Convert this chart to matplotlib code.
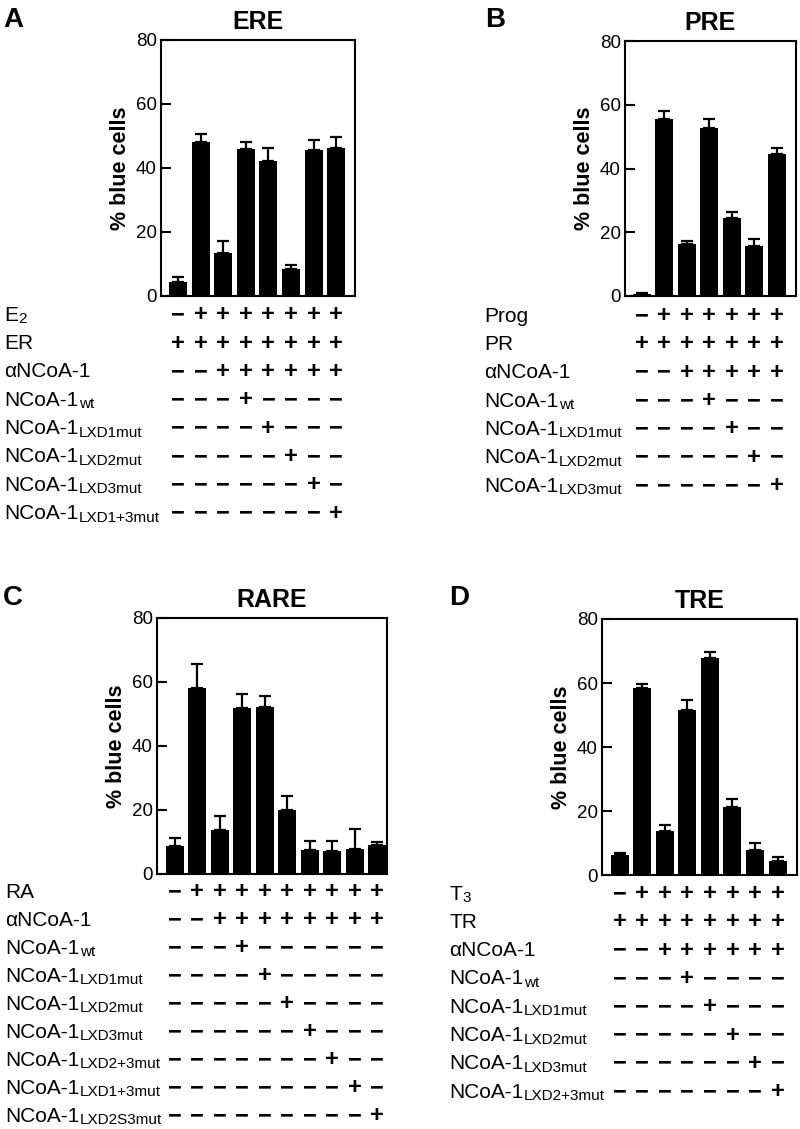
import matplotlib
matplotlib.use('Agg')
import matplotlib.pyplot as plt
from matplotlib import font_manager
from matplotlib.transforms import blended_transform_factory

plt.rcParams['font.family'] = ['Liberation Sans', 'DejaVu Sans']

try:
    font_manager.findfont('Liberation Sans Narrow', fallback_to_default=False)
    SUB_FAMILY = ['Liberation Sans Narrow', 'Liberation Sans']
    SUB_SIZE = 12.5
except Exception:
    SUB_FAMILY = ['Liberation Sans', 'DejaVu Sans']
    SUB_SIZE = 11

# ---------------- data ----------------
ere_values = [4.3, 48.2, 13.3, 46.0, 42.2, 8.3, 45.6, 46.2]
ere_errors = [1.5, 2.5, 3.8, 2.2, 4.0, 1.5, 3.0, 3.5]
ere_row_labels = [("E", "2"), ("ER", ""), ("\u03b1NCoA-1", ""), ("NCoA-1", "wt"),
                  ("NCoA-1", "LXD1mut"), ("NCoA-1", "LXD2mut"),
                  ("NCoA-1", "LXD3mut"), ("NCoA-1", "LXD1+3mut")]
ere_rows = ["-+++++++", "++++++++", "--++++++", "---+----",
            "----+---", "-----+--", "------+-", "-------+"]

pre_values = [0.7, 55.6, 16.3, 52.6, 24.6, 15.8, 44.5]
pre_errors = [0.1, 2.3, 0.9, 3.0, 1.7, 2.1, 1.8]
pre_row_labels = [("Prog", ""), ("PR", ""), ("\u03b1NCoA-1", ""), ("NCoA-1", "wt"),
                  ("NCoA-1", "LXD1mut"), ("NCoA-1", "LXD2mut"), ("NCoA-1", "LXD3mut")]
pre_rows = ["-++++++", "+++++++", "--+++++", "---+---",
            "----+--", "-----+-", "------+"]

rare_values = [8.9, 58.0, 13.8, 51.8, 52.1, 20.1, 7.5, 7.3, 7.7, 9.1]
rare_errors = [2.2, 7.7, 4.2, 4.4, 3.5, 4.3, 2.9, 2.9, 6.3, 0.8]
rare_row_labels = [("RA", ""), ("\u03b1NCoA-1", ""), ("NCoA-1", "wt"),
                   ("NCoA-1", "LXD1mut"), ("NCoA-1", "LXD2mut"), ("NCoA-1", "LXD3mut"),
                   ("NCoA-1", "LXD2+3mut"), ("NCoA-1", "LXD1+3mut"), ("NCoA-1", "LXD2S3mut")]
rare_rows = ["-+++++++++", "--++++++++", "---+------", "----+-----",
             "-----+----", "------+---", "-------+--", "--------+-", "---------+"]

tre_values = [6.2, 58.4, 13.9, 51.7, 67.9, 21.4, 7.9, 4.4]
tre_errors = [0.8, 1.3, 1.7, 3.1, 1.9, 2.5, 2.0, 1.2]
tre_row_labels = [("T", "3"), ("TR", ""), ("\u03b1NCoA-1", ""), ("NCoA-1", "wt"),
                  ("NCoA-1", "LXD1mut"), ("NCoA-1", "LXD2mut"), ("NCoA-1", "LXD3mut"),
                  ("NCoA-1", "LXD2+3mut")]
tre_rows = ["-+++++++", "++++++++", "--++++++", "---+----",
            "----+---", "-----+--", "------+-", "-------+"]

yticks = [0, 20, 40, 60, 80]

# ---------------- layout ----------------
W, H = 800, 1129
fig = plt.figure(figsize=(8, 11.29), dpi=100)


def fx(px):
    return px / W


def fy(py):
    return 1 - py / H


panels = [
    dict(letter='A', letter_px=(3, 27), title='ERE', rect=(161, 40, 355, 296),
         values=ere_values, errors=ere_errors, xlim=(-0.75, 7.83),
         labels=ere_row_labels, rows=ere_rows, label_x=4, row_y0=320.7, step=28.35),
    dict(letter='B', letter_px=(485, 27), title='PRE', rect=(625, 41, 796, 296),
         values=pre_values, errors=pre_errors, xlim=(-0.74, 6.86),
         labels=pre_row_labels, rows=pre_rows, label_x=484, row_y0=321.5, step=28.35),
    dict(letter='C', letter_px=(3, 605), title='RARE', rect=(157, 618, 387, 874),
         values=rare_values, errors=rare_errors, xlim=(-0.79, 9.44),
         labels=rare_row_labels, rows=rare_rows, label_x=5, row_y0=898.0, step=28.0),
    dict(letter='D', letter_px=(449, 605), title='TRE', rect=(602, 619, 797, 875),
         values=tre_values, errors=tre_errors, xlim=(-0.78, 7.86),
         labels=tre_row_labels, rows=tre_rows, label_x=449, row_y0=899.5, step=28.3),
]

subs_to_place = []

for p in panels:
    l, t, r, b = p['rect']
    ax = fig.add_axes([fx(l), fy(b), fx(r) - fx(l), fy(t) - fy(b)])
    n = len(p['values'])
    xs = list(range(n))
    ax.bar(xs, p['values'], width=0.8, color='black',
           yerr=[[0] * n, p['errors']], capsize=4.4,
           error_kw=dict(elinewidth=1.6, capthick=1.6, ecolor='black'))
    ax.set_xlim(*p['xlim'])
    ax.set_ylim(0, 80)
    ax.set_yticks(yticks)
    ax.set_xticks([])
    ax.tick_params(axis='y', direction='in', length=7, width=1.5,
                   labelsize=13.5, pad=3)
    for s in ax.spines.values():
        s.set_linewidth(1.5)
    ax.set_title(p['title'], fontsize=18, fontweight='bold', pad=8)
    ax.set_ylabel('% blue cells', fontsize=15.5, fontweight='bold')
    ax.yaxis.set_label_coords(-30 / (r - l), 0.5)

    fig.text(fx(p['letter_px'][0]), fy(p['letter_px'][1]), p['letter'],
             fontsize=20, fontweight='bold', ha='left', va='baseline')

    trans = blended_transform_factory(ax.transData, fig.transFigure)
    for i, ((main, sub), row) in enumerate(zip(p['labels'], p['rows'])):
        yb = p['row_y0'] + i * p['step']
        tm = fig.text(fx(p['label_x']), fy(yb), main, fontsize=15,
                      ha='left', va='baseline')
        if sub:
            subs_to_place.append((tm, sub, yb))
        for j, ch in enumerate(row):
            sym = '+' if ch == '+' else '\u2212'
            ax.text(j, fy(yb + 0.5), sym, transform=trans, ha='center', va='baseline',
                    fontsize=17, fontweight='bold', clip_on=False)

fig.canvas.draw()
renderer = fig.canvas.get_renderer()
for tm, sub, yb in subs_to_place:
    bb = tm.get_window_extent(renderer)
    x1 = bb.x1 / fig.dpi / fig.get_figwidth()
    fig.text(x1 + fx(0.5), fy(yb + 2.5), sub, fontsize=SUB_SIZE, family=SUB_FAMILY,
             ha='left', va='baseline')

fig.savefig('out.png', dpi=100)
